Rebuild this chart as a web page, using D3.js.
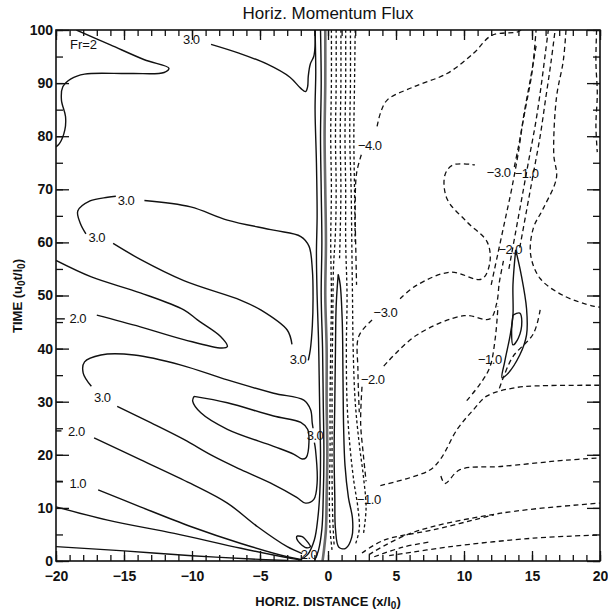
<!DOCTYPE html>
<html>
<head>
<meta charset="utf-8">
<script src="https://cdn.jsdelivr.net/npm/d3@7/dist/d3.min.js"></script>
<style>
  body { margin: 0; background: #fff; }
  svg { display: block; }
  text { font-family: "Liberation Sans", Arial, sans-serif; fill: #111; }
</style>
</head>
<body>
<svg id="chart" width="608" height="614"></svg>
<script>
// ---- axis ranges and tick labels ----
const xDomain = [-20, 20];
const tDomain = [0, 100];
const xTickLabels = [-20, -15, -10, -5, 0, 5, 10, 15, 20];
const tTickLabels = [0, 10, 20, 30, 40, 50, 60, 70, 80, 90, 100];

// ---- positive flux contours (solid), points are [x/l0, u0 t/l0] ----
const posTopLoop = [[-18.5,100],[-16,97.2],[-13.5,94.4],[-11.7,92.8],[-12.05,92.0],[-14.5,91.8],[-17.9,91.7],[-18.9,90.8],[-19.5,89.3],[-19.6,86.8],[-19.3,83.7],[-19.35,81.2],[-19.75,78.6],[-20,78.0]];
const posTopThree = [[-8.6,97.3],[-6.5,95.6],[-4.5,93.6],[-2.8,91.1],[-2.0,89.0],[-1.65,88.4],[-1.5,89.3],[-1.45,91.3],[-1.3,93.6],[-1.05,95.0],[-0.95,97],[-0.95,100]];
const posTongueA1 = [[-13.5,67.9],[-10.1,66.7],[-7.4,64.2],[-4.0,62.3],[-2.0,61.1],[-1.4,59.3],[-1.15,54.8],[-1.1,49.4],[-1.15,44.4],[-1.3,39.8],[-1.45,37.8]];
const posTongueA2 = [[-2.65,40.8],[-3.0,43.5],[-4.95,47.3],[-6.4,49.1],[-10.6,52.8],[-13.8,56.8],[-15.8,59.8]];
const posTongueA3 = [[-17.8,61.6],[-18.2,63.5],[-18.4,65.9],[-17.5,67.8],[-16.2,68.5],[-15.6,68.7]];
const posTwoUpper = [[-20,56.6],[-17.4,53.5],[-13.8,50.5],[-10.6,47.3],[-9.6,45.4],[-7.9,42.3],[-7.4,40.4],[-7.8,40.1],[-10.6,41.7],[-13.8,44.1],[-17.0,46.3]];
const posTwoUpperEnd = [[-20,45.6],[-19.35,45.6]];
const posTongueB1 = [[-15.5,29.1],[-13.0,26.0],[-10.6,22.9],[-8.4,19.7],[-6.4,17.2],[-4.0,14.4],[-2.3,12.0],[-1.65,10.9],[-1.04,11.6],[-0.8,14.7],[-0.92,21.0],[-1.0,22.3]];
const posTongueB2 = [[-1.1,25.0],[-1.16,26.0],[-1.28,28.5],[-1.78,30.3],[-4.0,31.6],[-7.4,34.1],[-10.8,36.9],[-14.25,38.8],[-16.7,38.8],[-17.9,37.5],[-18.0,35.4],[-17.4,32.9]];
const posInnerLoop = [[-9.85,31.0],[-7.4,29.8],[-4.0,27.3],[-2.0,26.1],[-1.5,24.8],[-1.4,22.4],[-1.6,19.5],[-1.9,19.2],[-2.5,20.1],[-4.0,21.6],[-7.4,24.8],[-9.35,27.9],[-9.95,30.1],[-9.85,31.0]];
const posTwoLower = [[-17.2,23.2],[-13.8,19.1],[-10.1,14.6],[-7.4,10.9],[-5.2,6.5],[-3.0,2.7],[-1.9,1.4]];
const posTwoLowerEnd = [[-20,24.5],[-19.6,24.5]];
const posOne = [[-16.9,13.4],[-13.8,10.2],[-10.1,6.5],[-6.4,3.3],[-3.0,0.8],[-2.0,0.3]];
const posOneEnd = [[-20,15.0],[-19.5,15.0]];
const posLowA = [[-20,10.2],[-16.2,7.7],[-11.3,5.2],[-6.4,2.4],[-2.75,0.5],[-2.0,0.2]];
const posLowB = [[-20,2.7],[-15,1.9],[-10,1.0],[-5,0.3],[-3,0.1]];
const posSmallLoop = [[-2.3,4.7],[-1.9,4.6],[-1.45,3.4],[-1.3,2.7],[-1.6,2.5],[-2.05,3.3],[-2.3,4.2],[-2.3,4.7]];
const posBandA = [[-0.95,100],[-0.9,92],[-0.95,85],[-0.85,75],[-0.8,65],[-0.85,58],[-0.8,50],[-0.7,42],[-0.65,35],[-0.6,27],[-0.55,20],[-0.6,13],[-0.75,8],[-1.0,4],[-1.5,1.2],[-2.2,0]];
const posBandB = [[-0.55,100],[-0.5,90],[-0.55,80],[-0.5,70],[-0.45,60],[-0.5,50],[-0.4,40],[-0.35,30],[-0.3,20],[-0.35,12],[-0.45,6],[-0.7,2],[-1.0,0]];
const posCore = [[-0.2,100],[-0.2,90],[-0.25,80],[-0.2,70],[-0.15,60],[-0.2,50],[-0.1,40],[-0.1,30],[-0.05,20],[-0.1,12],[-0.15,6],[-0.3,2],[-0.4,0]];
const posNearTongue = [[0.75,54],[0.6,48],[0.55,40],[0.5,30],[0.45,20],[0.5,12],[0.55,6],[0.8,2.6],[1.3,2.4],[1.75,4.5],[1.8,8],[1.5,12],[1.25,18],[1.15,25],[1.1,35],[1.05,45],[0.9,52],[0.75,54]];
const posFarLoop = [[13.8,58.6],[14.2,54],[14.6,47.5],[14.6,42.6],[14.1,38.8],[13.15,35.1],[12.8,34.5],[13.0,37.6],[13.4,42.6],[13.6,46.3],[13.6,52],[13.8,58.6]];
const posFarInner = [[13.6,46.3],[14.1,46.7],[14.25,45.1],[14.0,42.0],[13.6,40.7],[13.5,43.2],[13.6,46.3]];

// ---- negative flux contours (dashed) ----
const negFourTop = [[14.2,100],[13.9,99.6],[12.05,99.0],[10.7,95.6],[8.75,91.8],[6.3,89.3],[4.35,86.8],[3.85,84.3],[3.6,81.7]];
const negFourLow = [[2.45,76.5],[2.1,73],[2.0,66],[2.05,58],[2.1,52]];
const negThreeBig = [[5.3,49.4],[6.5,51.9],[9.0,54.4],[11.3,53.1],[11.9,56.2],[11.7,60.1],[10.2,63.9],[8.75,68.2],[8.6,72.7],[9.2,74.6],[10.8,74.6]];
const negThreeBigEnd = [[13.7,74.2],[14.0,78],[14.5,85],[15.0,92],[15.3,100]];
const negThreeLow = [[3.24,45.4],[2.26,42.3],[2.2,36],[2.3,28]];
const negTwo = [[4.1,36.7],[6.5,42.5],[10.0,46.2],[11.9,45.6],[12.4,48.5],[12.6,52.5],[12.9,56.5]];
const negTwoLow = [[2.5,32.8],[2.4,26],[2.6,20],[2.8,15]];
const negOne = [[3.85,14.2],[7.4,17.0],[8.25,19.1],[9.5,24.8],[10.7,28.5],[11.7,31.1],[13.9,32.7],[15.6,33.0],[20,33.1]];
const negOneLow = [[8.3,16.0],[8.6,14.6],[9.7,17.2],[12.7,17.8],[17.55,19.0],[20,19.4]];
const negFanA = [[2.5,1.5],[4.1,3.9],[7.8,5.9],[12.2,8.7]];
const negFanB = [[3.0,1.2],[6.05,5.2],[12.7,9.0],[20,10.9]];
const negFanC = [[4.5,1.0],[9.0,2.7],[15.1,4.3],[20,4.9]];
const negFanD = [[3.4,0.8],[5.5,2.6],[7.5,3.6]];
const negBandOuter = [[17.5,100],[17.3,94.2],[16.8,87.3],[16.6,76.6],[16.8,72.2],[15.85,66.5],[15.1,62.7],[14.9,57.7],[15.6,53.2],[17.3,50.0],[19.5,48.0],[20,47.8]];
const negBandA = [[12.0,52],[12.5,58],[13.0,64],[13.5,70],[14.0,77],[14.4,84],[14.9,91],[15.3,97]];
const negBandB = [[13.3,55],[13.8,62],[14.3,69],[14.8,76],[15.3,83],[15.7,90],[16.0,96],[16.2,100]];
const negBandC = [[14.1,59],[14.6,66],[15.1,73],[15.6,80],[16.0,87],[16.4,94],[16.7,100]];
const negNearLoopL = [[10.2,30.2],[11.2,33.4],[11.9,36.5],[12.3,42],[12.5,48]];
const negNearLoopR = [[15.6,47.3],[15.1,42.8],[13.6,38.5],[12.9,34.6],[12.6,32.5]];
const negRightEdge = [[19.75,100],[19.7,94],[19.8,88],[19.7,82],[19.8,77]];
const negCoreA = [[0.25,100],[0.25,90],[0.2,80],[0.25,70],[0.2,60],[0.25,50],[0.2,40],[0.15,30],[0.15,20],[0.1,12],[0.15,6],[0.3,2]];
const negCoreB = [[0.6,100],[0.6,90],[0.55,80],[0.6,70],[0.55,62],[0.4,55],[0.35,45],[0.3,35],[0.3,25],[0.3,15],[0.35,8],[0.45,3]];
const negCoreC = [[0.95,100],[0.95,90],[0.9,80],[0.95,70],[0.9,62],[0.85,57]];
const negCoreD = [[1.3,100],[1.3,90],[1.25,80],[1.3,70],[1.3,60],[1.4,50],[1.35,40],[1.4,30],[1.6,22],[1.9,15],[2.2,10],[2.3,6],[2.0,3]];
const negCoreE = [[1.65,100],[1.65,90],[1.6,80],[1.7,70],[1.75,60],[1.8,50],[1.85,40],[2.0,30],[2.3,22],[2.6,16],[2.8,10],[2.6,5]];
const negCoreF = [[2.0,100],[1.95,90],[1.9,80],[1.95,70],[2.0,60]];

const solidContours = [posTopLoop, posTopThree, posTongueA1, posTongueA2, posTongueA3, posTwoUpper, posTwoUpperEnd,
  posTongueB1, posTongueB2, posInnerLoop, posTwoLower, posTwoLowerEnd, posOne, posOneEnd, posLowA, posLowB,
  posSmallLoop, posBandA, posBandB, posNearTongue, posFarLoop, posFarInner];
const dashedContours = [negFourTop, negFourLow, negThreeBig, negThreeBigEnd, negThreeLow, negTwo, negTwoLow, negOne, negOneLow,
  negFanA, negFanB, negFanC, negFanD, negBandOuter, negBandA, negBandB, negBandC, negNearLoopL, negNearLoopR, negRightEdge];
const denseDashed = [negCoreA, negCoreB, negCoreC, negCoreD, negCoreE, negCoreF];

// ---- contour value labels ----
const labelText = ["3.0", "3.0", "3.0", "3.0", "2.0", "3.0", "3.0", "2.0", "1.0", "2.0",
  "\u22124.0", "\u22123.0", "\u22123.0", "\u22122.0", "\u22121.0", "\u22122.0", "\u22121.0", "\u22121.0"];
const labelX = [-10.05, -14.85, -17.0, -2.2, -18.4, -16.6, -0.95, -18.5, -18.4, -1.4,
  3.07, 12.55, 4.22, 3.29, 14.6, 13.4, 11.9, 3.0];
const labelT = [98.3, 67.9, 61.0, 38.0, 45.7, 30.7, 23.6, 24.4, 14.6, 1.3,
  78.2, 73.2, 46.8, 34.2, 73.0, 58.6, 38.0, 11.6];

// ---- drawing ----
const plot = { left: 56, right: 600, top: 30, bottom: 561 };
const svg = d3.select("#chart");
const x = d3.scaleLinear().domain(xDomain).range([plot.left, plot.right]);
const y = d3.scaleLinear().domain(tDomain).range([plot.bottom, plot.top]);

svg.append("defs").append("clipPath").attr("id", "plotClip")
  .append("rect").attr("x", plot.left).attr("y", plot.top)
  .attr("width", plot.right - plot.left).attr("height", plot.bottom - plot.top);

const line = d3.line().x(d => x(d[0])).y(d => y(d[1])).curve(d3.curveCatmullRom.alpha(0.5));
const g = svg.append("g").attr("clip-path", "url(#plotClip)");

// thick grey core of the positive band
g.append("path").datum(posCore).attr("d", line)
  .attr("fill", "none").attr("stroke", "#6a6a6a").attr("stroke-width", 2.6);

g.selectAll("path.solid").data(solidContours).join("path").attr("class", "solid")
  .attr("d", line).attr("fill", "none").attr("stroke", "#111").attr("stroke-width", 1.4);

g.selectAll("path.dash").data(dashedContours).join("path").attr("class", "dash")
  .attr("d", line).attr("fill", "none").attr("stroke", "#111").attr("stroke-width", 1.3)
  .attr("stroke-dasharray", "5,3.5");

g.selectAll("path.dense").data(denseDashed).join("path").attr("class", "dense")
  .attr("d", line).attr("fill", "none").attr("stroke", "#111").attr("stroke-width", 1.3)
  .attr("stroke-dasharray", "3,2.5");

// contour labels
svg.append("g").selectAll("text").data(labelText).join("text")
  .attr("x", (d, i) => x(labelX[i])).attr("y", (d, i) => y(labelT[i]))
  .attr("text-anchor", "middle").attr("dominant-baseline", "central")
  .attr("font-size", 13).attr("letter-spacing", -0.5).text(d => d);

// frame
svg.append("rect").attr("x", plot.left).attr("y", plot.top)
  .attr("width", plot.right - plot.left).attr("height", plot.bottom - plot.top)
  .attr("fill", "none").attr("stroke", "#111").attr("stroke-width", 1.6);

// inward ticks on all four sides
const xMinor = d3.range(-20, 21, 1), xMajor = d3.range(-20, 21, 5);
const tMinor = d3.range(0, 101, 5), tMajor = d3.range(0, 101, 10);
function ticks(axisFn, scale, vals, size, transform) {
  const a = svg.append("g").attr("transform", transform)
    .call(axisFn(scale).tickValues(vals).tickSize(size).tickFormat(""));
  a.select(".domain").remove();
  a.selectAll("line").attr("stroke", "#111").attr("stroke-width", 1.3);
}
ticks(d3.axisTop, x, xMinor, 6, `translate(0,${plot.bottom})`);
ticks(d3.axisTop, x, xMajor, 10, `translate(0,${plot.bottom})`);
ticks(d3.axisBottom, x, xMinor, 6, `translate(0,${plot.top})`);
ticks(d3.axisBottom, x, xMajor, 10, `translate(0,${plot.top})`);
ticks(d3.axisRight, y, tMinor, 7, `translate(${plot.left},0)`);
ticks(d3.axisRight, y, tMajor, 13, `translate(${plot.left},0)`);
ticks(d3.axisLeft, y, tMinor, 7, `translate(${plot.right},0)`);
ticks(d3.axisLeft, y, tMajor, 13, `translate(${plot.right},0)`);

// tick labels
const fmt = v => (v < 0 ? "\u2212" + Math.abs(v) : String(v));
const xl = svg.append("g").attr("transform", `translate(0,${plot.bottom})`)
  .call(d3.axisBottom(x).tickValues(xTickLabels).tickSize(0).tickPadding(10).tickFormat(fmt));
xl.select(".domain").remove();
xl.selectAll("text").attr("font-size", 14).attr("font-weight", "bold")
  .attr("font-family", "Liberation Sans, Arial, sans-serif").attr("fill", "#111");

const yl = svg.append("g").attr("transform", `translate(${plot.left},0)`)
  .call(d3.axisLeft(y).tickValues(tTickLabels).tickSize(0).tickPadding(3).tickFormat(fmt));
yl.select(".domain").remove();
yl.selectAll("text").attr("font-size", 14).attr("font-weight", "bold")
  .attr("font-family", "Liberation Sans, Arial, sans-serif").attr("fill", "#111");

// titles
svg.append("text").attr("x", 328).attr("y", 19).attr("text-anchor", "middle")
  .attr("font-size", 17).text("Horiz. Momentum Flux");

svg.append("text").attr("x", 70).attr("y", 49).attr("font-size", 13).text("Fr=2");

const xt = svg.append("text").attr("x", 328).attr("y", 606).attr("text-anchor", "middle")
  .attr("font-size", 13).attr("font-weight", "bold");
xt.append("tspan").text("HORIZ. DISTANCE (x/l");
xt.append("tspan").attr("font-size", 10).attr("dy", 3).text("0");
xt.append("tspan").attr("dy", -3).text(")");

const yt = svg.append("text").attr("transform", "translate(22,296) rotate(-90)")
  .attr("text-anchor", "middle").attr("font-size", 13).attr("font-weight", "bold");
yt.append("tspan").text("TIME (u");
yt.append("tspan").attr("font-size", 10).attr("dy", 3).text("0");
yt.append("tspan").attr("dy", -3).text("t/l");
yt.append("tspan").attr("font-size", 10).attr("dy", 3).text("0");
yt.append("tspan").attr("dy", -3).text(")");
</script>
</body>
</html>
